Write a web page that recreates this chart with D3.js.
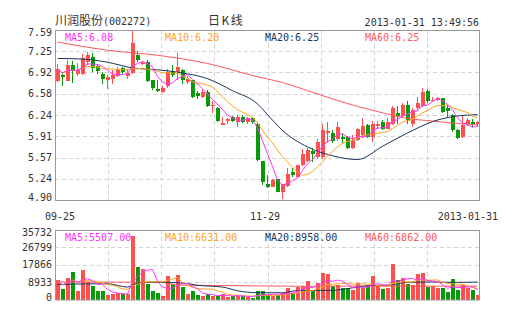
<!DOCTYPE html>
<html><head><meta charset="utf-8">
<script src="https://cdn.jsdelivr.net/npm/d3@7"></script>
<style>html,body{margin:0;padding:0;background:#fff;overflow:hidden}</style>
</head><body>
<svg id="c" width="505" height="330"></svg>
<script>
// ---------------- data ----------------
const stockName = "川润股份";
const stockCode = "(002272)";
const chartType = "日K线";
const timeStamp = "2013-01-31 13:49:56";

const openP  = [6.78,6.88,6.79,7.04,6.89,6.90,7.08,7.17,7.02,6.90,6.80,6.82,6.87,6.99,6.87,6.91,7.20,7.05,7.09,6.80,
                6.65,6.61,6.70,6.94,6.93,6.96,6.77,6.80,6.59,6.53,6.61,6.38,6.36,6.09,6.15,6.21,6.14,6.22,6.13,6.20,
                6.11,5.51,5.16,5.11,5.23,5.03,5.12,5.35,5.27,5.45,5.51,5.67,5.58,5.58,5.96,5.96,5.86,5.90,5.90,5.73,
                5.85,5.93,6.09,5.90,6.07,6.14,6.03,6.11,6.28,6.23,6.40,6.11,6.35,6.38,6.63,6.47,6.48,6.51,6.36,6.24,
                6.01,5.90,6.11,6.14,6.10];
const closeP = [6.97,6.85,7.03,6.95,6.96,7.15,7.19,6.99,6.94,6.81,6.84,6.88,6.96,6.93,6.91,7.38,7.12,7.09,6.78,6.67,
                6.62,6.68,6.92,6.88,7.00,6.80,6.82,6.53,6.54,6.61,6.38,6.40,6.15,6.12,6.18,6.15,6.22,6.13,6.20,6.13,
                5.53,5.19,5.10,5.22,5.03,5.15,5.31,5.30,5.45,5.63,5.69,5.63,5.82,6.00,5.99,5.84,6.06,5.86,5.72,5.85,
                6.02,6.07,5.90,6.10,6.11,6.03,6.14,6.35,6.23,6.40,6.17,6.33,6.43,6.61,6.46,6.49,6.51,6.30,6.31,6.01,
                5.88,6.09,6.17,6.10,6.14];
const highP  = [7.05,6.92,7.12,7.10,7.06,7.21,7.24,7.22,7.05,6.93,6.88,6.95,7.00,7.01,6.97,7.59,7.25,7.10,7.12,6.80,
                6.80,6.70,6.97,7.03,7.23,6.98,6.86,6.80,6.62,6.66,6.64,6.46,6.37,6.22,6.20,6.23,6.25,6.24,6.22,6.22,
                6.14,5.52,5.30,5.23,5.24,5.16,5.40,5.40,5.46,5.70,5.72,5.73,5.86,6.11,6.14,6.00,6.13,5.95,5.92,5.93,
                6.04,6.20,6.11,6.15,6.15,6.17,6.20,6.38,6.38,6.44,6.46,6.36,6.53,6.67,6.65,6.53,6.53,6.52,6.40,6.26,
                6.03,6.24,6.20,6.18,6.15];
const lowP   = [6.76,6.70,6.78,6.75,6.86,6.88,7.03,6.93,6.90,6.74,6.65,6.74,6.84,6.90,6.81,6.90,7.08,7.04,6.76,6.64,
                6.61,6.60,6.68,6.85,6.80,6.74,6.74,6.52,6.50,6.51,6.37,6.27,6.14,6.08,6.10,6.13,6.06,6.12,6.11,6.10,
                5.52,5.14,5.09,5.10,5.02,4.91,5.10,5.27,5.25,5.44,5.50,5.50,5.55,5.55,5.80,5.80,5.84,5.80,5.70,5.71,
                5.83,5.88,5.88,5.82,6.03,6.01,6.02,6.08,6.10,6.20,6.10,6.05,6.32,6.37,6.44,6.45,6.46,6.28,6.20,5.98,
                5.86,5.88,6.07,6.06,6.05];
const volume = [9840,5180,11030,14140,4140,15020,8960,6730,4140,4140,2070,2590,3450,2760,2930,32640,16750,15540,7770,4140,
                3110,1550,11910,8110,12430,6390,2590,4140,2070,1550,2930,1550,1730,2930,1210,1550,2070,1550,1210,1000,
                4140,4140,2070,1730,2070,3450,6040,3450,6210,6730,9320,4660,8630,13640,12950,6900,7600,5870,5870,4660,
                8630,5870,6900,11910,7250,5520,5870,18130,9840,11030,8110,7250,13300,13820,6390,6730,5870,5870,3800,10360,
                4660,7250,5870,4660,2070];

// moving-average lines (index, value)
const ma20Idx = [0,5,10,15,20,25,30,35,40,42,45,50,55,60,65,70,75,80,84];
const ma20Val = [7.14,7.13,7.08,6.99,6.96,6.91,6.82,6.63,6.42,6.25,6.00,5.74,5.60,5.54,5.75,5.96,6.14,6.23,6.25];
const ma60Idx = [0,10,20,30,40,45,50,55,60,65,70,75,80,84];
const ma60Val = [7.40,7.27,7.19,7.06,6.85,6.76,6.63,6.50,6.38,6.28,6.19,6.15,6.11,6.09];
const volMa20Idx = [0,5,10,14,16,20,25,28,33,36,40,45,48,55,58,63,66,70,75,80,84];
const volMa20Val = [7600,8000,8100,6400,8400,8900,8500,7300,6400,4500,3500,3450,4600,4700,5600,7250,7300,8900,9000,8800,8958];
const volMa60Idx = [0,10,21,24,30,40,50,60,70,80,84];
const volMa60Val = [9000,8950,8900,7400,7250,7000,6800,6900,6900,6850,6862];

const priceTicks = [7.59,7.25,6.92,6.58,6.24,5.91,5.57,5.24,4.90];
const volTicks = [35732,26799,17866,8933,0];
const xLabels = ["09-25","11-29","2013-01-31"];
const xLabelIdx = [0,42,84];
const maNames = ["MA5","MA10","MA20","MA60"];
const priceMaLegend = ["6.08","6.20","6.25","6.25"];
const volMaLegend = ["5507.00","6631.00","8958.00","6862.00"];

// ---------------- layout / style ----------------
const L = 55, R = 480, pTop = 30, pBot = 200, vTop = 230, vBot = 299.5;
const UP = "#ff4f4f", DOWN = "#079907";
const maColors = ["#ff33ff", "#ffa31a", "#17375e", "#ff5a5a"];
const MONO = "'DejaVu Sans Mono', 'Liberation Mono', monospace";
const CJK = "'Noto Sans CJK SC', 'Noto Sans', sans-serif";
const n = closeP.length;

const svg = d3.select("#c");
const x = d3.scaleBand().domain(d3.range(n)).range([L, R]).paddingInner(0).paddingOuter(0);
const bw = x.bandwidth();
const yP = d3.scaleLinear().domain([4.90, 7.59]).range([pBot, pTop]);
const yV = d3.scaleLinear().domain([0, 35732]).range([vBot, vTop]);
const col = d3.scaleLinear().domain([0, 8]).range([L, R]);

// header
const t = svg.append("text").attr("x", 55).attr("y", 25).attr("fill", "#333")
  .style("font-family", CJK).style("font-size", "12px");
t.append("tspan").text(stockName);
t.append("tspan").style("font-family", MONO).style("font-size", "10px").text(stockCode);
svg.append("text").attr("x", 208).attr("y", 25).attr("fill", "#333")
  .style("font-family", CJK).style("font-size", "12px").style("letter-spacing", "1.5px").text(chartType);
svg.append("text").attr("x", 479).attr("y", 26).attr("text-anchor", "end").attr("fill", "#333")
  .style("font-family", MONO).style("font-size", "10px").text(timeStamp);

// grids
function grid(top, bot, yScale, ticks) {
  const g = svg.append("g").attr("stroke", "#d4d4d4").attr("stroke-dasharray", "4,3").attr("fill", "none");
  g.selectAll("line.v").data(d3.range(1, 8)).join("line")
    .attr("x1", k => Math.round(col(k)) + 0.5).attr("x2", k => Math.round(col(k)) + 0.5)
    .attr("y1", top).attr("y2", bot);
  g.selectAll("line.h").data(ticks.slice(1, -1)).join("line")
    .attr("x1", L).attr("x2", R)
    .attr("y1", d => Math.round(yScale(d)) + 0.5).attr("y2", d => Math.round(yScale(d)) + 0.5);
}
grid(pTop, pBot, yP, priceTicks);
grid(vTop, vBot, yV, volTicks);

// axis labels
function yLabels(scale, ticks, top, bot, fmt) {
  svg.append("g").selectAll("text").data(ticks).join("text")
    .attr("x", 52).attr("text-anchor", "end").attr("fill", "#333")
    .attr("y", d => Math.min(Math.max(scale(d), top + 2), bot - 2.5) + 3.6)
    .style("font-family", MONO).style("font-size", "10px")
    .text(fmt);
}
yLabels(yP, priceTicks, pTop, pBot, d => d.toFixed(2));
yLabels(yV, volTicks, vTop, vBot, d => String(d));

svg.append("g").selectAll("text").data(xLabels).join("text")
  .attr("y", 220).attr("fill", "#333")
  .style("font-family", MONO).style("font-size", "10px")
  .attr("x", (d, k) => k === 0 ? x(xLabelIdx[k]) - 10 : k === xLabels.length - 1 ? x(xLabelIdx[k]) + bw + 18 : x(xLabelIdx[k]))
  .attr("text-anchor", (d, k) => k === 0 ? "start" : k === xLabels.length - 1 ? "end" : "middle")
  .text(d => d);

// candles
const idx = d3.range(n);
const cg = svg.append("g").attr("shape-rendering", "crispEdges");
cg.selectAll("rect.w").data(idx).join("rect")
  .attr("x", i => x(i) + 2).attr("width", 1)
  .attr("y", i => yP(highP[i])).attr("height", i => Math.max(1, yP(lowP[i]) - yP(highP[i])))
  .attr("fill", i => closeP[i] >= openP[i] ? UP : DOWN);
cg.selectAll("rect.b").data(idx).join("rect")
  .attr("x", i => x(i) + 1).attr("width", bw - 1)
  .attr("y", i => yP(Math.max(openP[i], closeP[i])))
  .attr("height", i => Math.max(1, Math.abs(yP(openP[i]) - yP(closeP[i]))))
  .attr("fill", i => closeP[i] >= openP[i] ? UP : DOWN);

// volume bars
cg.selectAll("rect.v").data(idx).join("rect")
  .attr("x", i => x(i) + 1).attr("width", bw - 1)
  .attr("y", i => yV(volume[i])).attr("height", i => vBot - yV(volume[i]))
  .attr("fill", i => closeP[i] >= openP[i] ? UP : DOWN);

// moving averages
function movAvg(arr, k) {
  return arr.map((v, i) => d3.mean(arr.slice(Math.max(0, i - k + 1), i + 1)));
}
const cx = i => x(i) + bw / 2;
function drawLine(pts, yScale, color, curve) {
  const line = d3.line().x(p => cx(p[0])).y(p => yScale(p[1]));
  if (curve) line.curve(d3.curveMonotoneX);
  svg.append("path").datum(pts).attr("d", line)
    .attr("fill", "none").attr("stroke", color).attr("stroke-width", 1);
}
const zip = (a, b) => a.map((v, k) => [v, b[k]]);
drawLine(zip(ma60Idx, ma60Val), yP, maColors[3], true);
drawLine(zip(ma20Idx, ma20Val), yP, maColors[2], true);
drawLine(idx.map(i => [i, movAvg(closeP, 10)[i]]), yP, maColors[1], false);
drawLine(idx.map(i => [i, movAvg(closeP, 5)[i]]), yP, maColors[0], false);

drawLine(zip(volMa60Idx, volMa60Val), yV, maColors[3], true);
drawLine(zip(volMa20Idx, volMa20Val), yV, maColors[2], true);
drawLine(idx.map(i => [i, movAvg(volume, 10)[i]]), yV, maColors[1], false);
drawLine(idx.map(i => [i, movAvg(volume, 5)[i]]), yV, maColors[0], false);

// frames
svg.append("rect").attr("x", L + 0.5).attr("y", pTop + 0.5).attr("width", R - L - 1).attr("height", pBot - pTop)
  .attr("fill", "none").attr("stroke", "#999");
svg.append("rect").attr("x", L + 0.5).attr("y", vTop + 0.5).attr("width", R - L - 1).attr("height", vBot - vTop)
  .attr("fill", "none").attr("stroke", "#999");

// legends
function legend(y, vals) {
  svg.append("g").selectAll("text").data(maNames).join("text")
    .attr("x", (d, k) => L + 10 + k * 100).attr("y", y)
    .attr("fill", (d, k) => maColors[k])
    .style("font-family", MONO).style("font-size", "10px")
    .text((d, k) => d + ":" + vals[k]);
}
legend(40.5, priceMaLegend);
legend(240.5, volMaLegend);
</script>
</body></html>
